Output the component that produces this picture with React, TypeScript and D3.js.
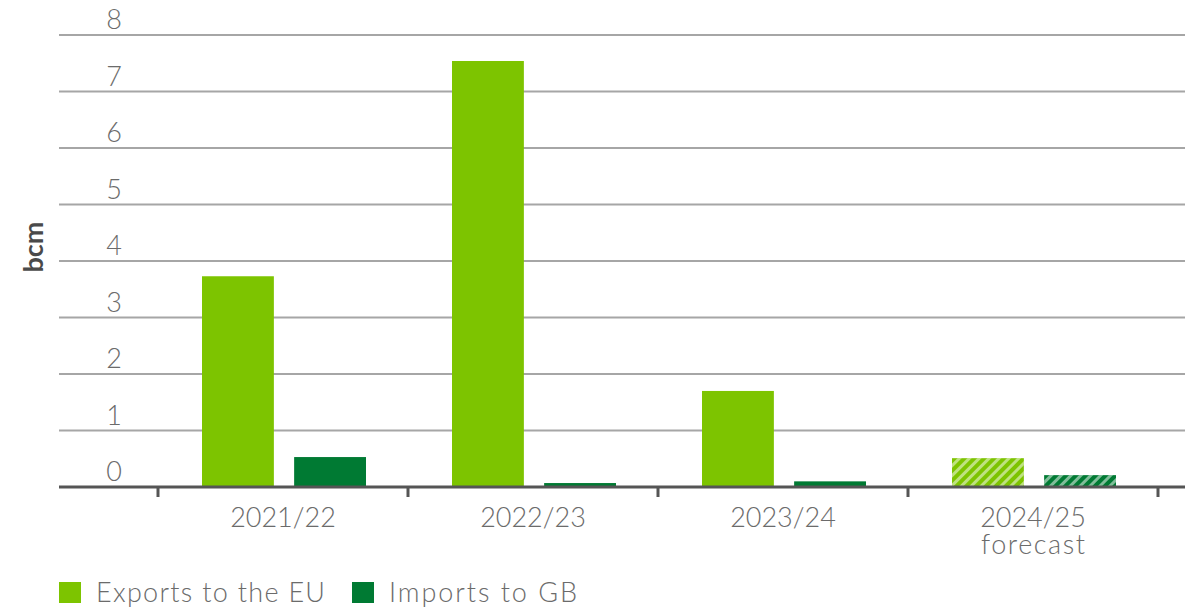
import React from "react";
import * as d3 from "d3";

const categories = ["2021/22", "2022/23", "2023/24", "2024/25"];
const categoryLines = [["2021/22"], ["2022/23"], ["2023/24"], ["2024/25", "forecast"]];
const exportsEU = [3.73, 7.54, 1.7, 0.51];
const importsGB = [0.53, 0.07, 0.1, 0.21];
const forecastFlags = [false, false, false, true];
const yTicks = [0, 1, 2, 3, 4, 5, 6, 7, 8];
const seriesNames = ["Exports to the EU", "Imports to GB"];

const LIGHT = "#7dc400";
const DARK = "#007a33";
const TEXT = "#6b6b6b";
const FONT = "Lato, 'Open Sans', sans-serif";

export default function App() {
  const W = 1197, H = 609;
  const gridX0 = 59, gridX1 = 1185;
  const y = d3.scaleLinear().domain([0, 8]).range([487, 35]);
  const x = d3.scaleBand().domain(categories).range([158, 1158]).paddingInner(0).paddingOuter(0);
  const bw = x.bandwidth();
  const inner = d3.scaleBand().domain(["e", "i"]).range([44, bw - 42]).paddingInner(0.22).paddingOuter(0);
  const legendLens = [229, 188];

  return (
    <svg width={W} height={H} style={{ position: "absolute", left: 0, top: 0 }}>
      <defs>
        <pattern id="hatch" patternUnits="userSpaceOnUse" width="7" height="7" patternTransform="rotate(45)">
          <line x1="1.5" y1="0" x2="1.5" y2="7" stroke="rgba(255,255,255,0.5)" strokeWidth="3" />
        </pattern>
      </defs>
      {yTicks.map((t) => (
        <g key={t}>
          {t > 0 && (
            <line x1={gridX0} x2={gridX1} y1={y(t)} y2={y(t)} stroke="#a6a6a6" strokeWidth={2} />
          )}
          <text x={122} y={y(t) - 6} textAnchor="end" fontFamily={FONT} fontWeight={300} fontSize={27} fill={TEXT}>
            {t}
          </text>
        </g>
      ))}
      <text
        transform={`translate(43,${247}) rotate(-90)`}
        textAnchor="middle"
        fontFamily={FONT}
        fontWeight={700}
        fontSize={27}
        fill="#4a4a4a"
      >
        bcm
      </text>
      {categories.map((c, i) => {
        const x0 = x(c)!;
        const bars = [
          { key: "e", v: exportsEU[i], color: LIGHT },
          { key: "i", v: importsGB[i], color: DARK },
        ];
        return (
          <g key={c}>
            {bars.map((b) => (
              <g key={b.key}>
                <rect x={x0 + inner(b.key)!} width={inner.bandwidth()} y={y(b.v)} height={y(0) - y(b.v)} fill={b.color} />
                {forecastFlags[i] && (
                  <rect x={x0 + inner(b.key)!} width={inner.bandwidth()} y={y(b.v)} height={y(0) - y(b.v)} fill="url(#hatch)" />
                )}
              </g>
            ))}
            {categoryLines[i].map((ln, j) => (
              <text
                key={j}
                x={x0 + bw / 2}
                y={527 + j * 27}
                textAnchor="middle"
                fontFamily={FONT}
                fontWeight={300}
                fontSize={27}
                fill={TEXT}
                {...(j === 1 ? { textLength: 104, lengthAdjust: "spacing" } : {})}
              >
                {ln}
              </text>
            ))}
          </g>
        );
      })}
      <line x1={gridX0} x2={gridX1} y1={y(0)} y2={y(0)} stroke="#555" strokeWidth={3} />
      {[...categories.map((c) => x(c)!), 1158].map((tx, i) => (
        <line key={i} x1={tx} x2={tx} y1={y(0)} y2={y(0) + 10} stroke="#555" strokeWidth={3} />
      ))}
      {seriesNames.map((s, i) => {
        const lx = i === 0 ? 59 : 352;
        return (
          <g key={s}>
            <rect x={lx} y={582} width={22} height={21} fill={i === 0 ? LIGHT : DARK} />
            <text
              x={lx + 37}
              y={602}
              fontFamily={FONT}
              fontWeight={300}
              fontSize={27}
              fill={TEXT}
              textLength={legendLens[i]}
              lengthAdjust="spacing"
            >
              {s}
            </text>
          </g>
        );
      })}
    </svg>
  );
}
